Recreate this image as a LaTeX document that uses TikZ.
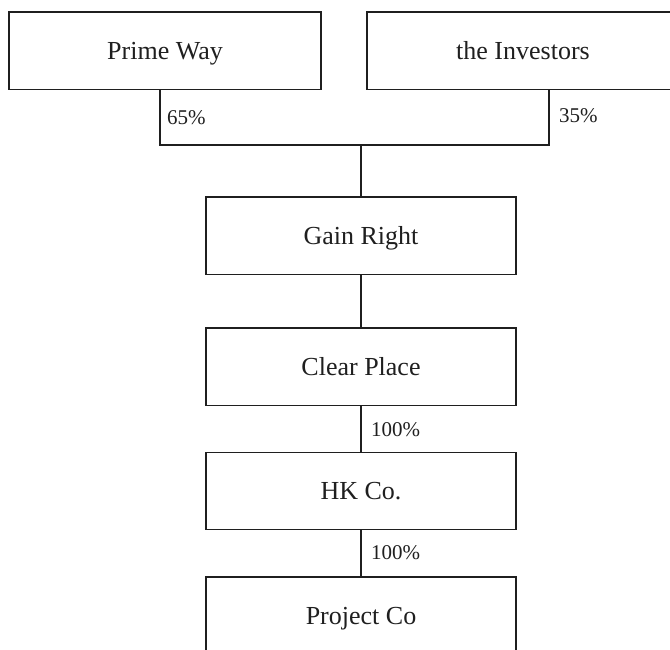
\documentclass[tikz,border=0pt]{standalone}
\usepackage{fontspec}
\setmainfont{Liberation Serif}
\begin{document}
\begin{tikzpicture}[x=1pt,y=-1pt,
  ink/.style={draw=black!88,line width=1.3pt},
  entity/.style={ink,rectangle,inner sep=0pt,minimum height=77.5pt,
    text=black!88,font=\fontsize{26}{30}\selectfont,text height=17pt,text depth=0pt},
  topbox/.style={entity,minimum width=312pt},
  midbox/.style={entity,minimum width=310pt},
  share/.style={inner sep=0pt,anchor=base west,text=black!88,font=\fontsize{21}{25}\selectfont}]
\useasboundingbox (0,0) rectangle (670,649);
\clip (0,0) rectangle (670,649);

% shareholders
\node[topbox] (pw)  at (165,50.75) {Prime Way};
\node[topbox] (inv) at (523,50.75) {the Investors};

% chain of holding companies
\node[midbox] (gr) at (361,235.75) {Gain Right};
\node[midbox] (cp) at (361,366.75) {Clear Place};
\node[midbox] (hk) at (361,491)    {HK Co.};
\node[midbox] (pc) at (361,615.75) {Project Co};

% ownership bus joining the two shareholders
\coordinate (busL) at (160,145);
\coordinate (busR) at (549,145);
\coordinate (busM) at (gr.north |- busL);
\draw[ink] (pw.south -| busL) -- (busL) -- (busR) -- (inv.south -| busR);
\draw[ink] (busM) -- (gr.north);

% vertical links down the chain
\draw[ink] (gr.south) -- (cp.north);
\draw[ink] (cp.south) -- (hk.north);
\draw[ink] (hk.south) -- (pc.north);

% percentage labels
\node[share] (p65) at (167,124) {65\%};
\node[share] (p35) at (559,122) {35\%};
\node[share] (p1)  at (371,436) {100\%};
\node[share] (p2)  at (371,559.5) {100\%};
\end{tikzpicture}
\end{document}
